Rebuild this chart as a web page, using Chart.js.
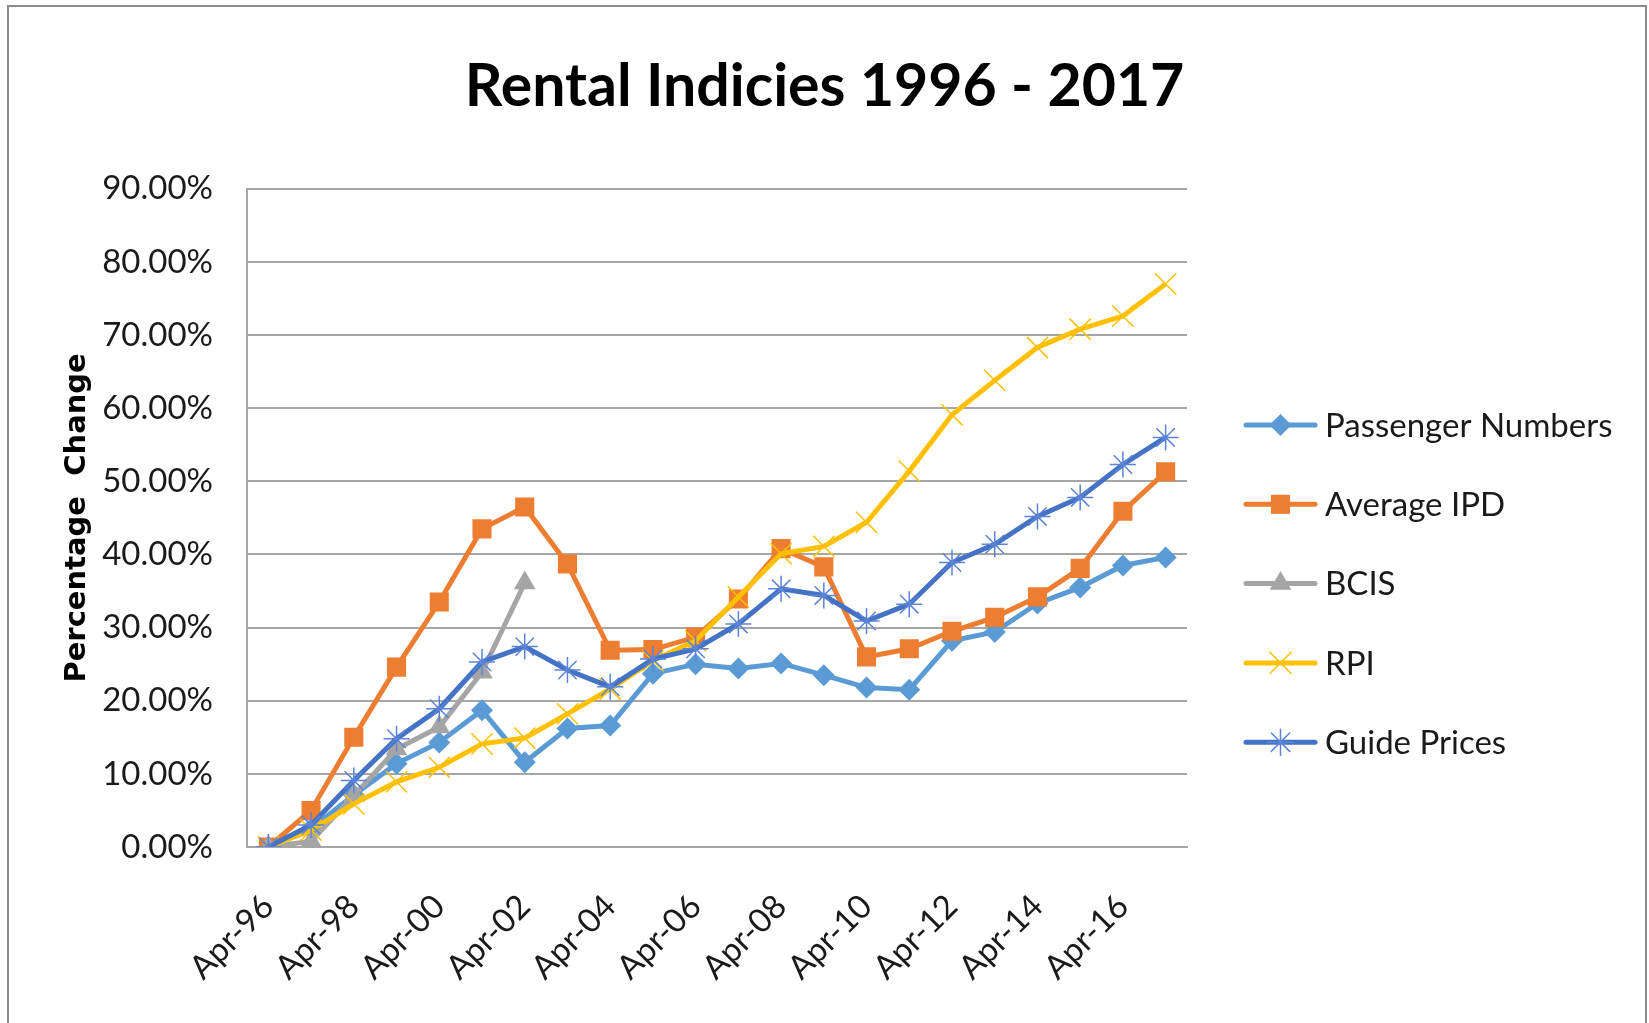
<!DOCTYPE html>
<html>
<head>
<meta charset="utf-8">
<title>Rental Indicies 1996 - 2017</title>
<script src="https://cdn.jsdelivr.net/npm/chart.js"></script>
<style>
  html, body { margin: 0; padding: 0; background: #fff; }
  #chart { display: block; }
</style>
</head>
<body>
<canvas id="chart" width="1649" height="1023"></canvas>
<script>
// categories: one point per April, 1996 - 2017
const years = ["Apr-96", "Apr-97", "Apr-98", "Apr-99", "Apr-00", "Apr-01", "Apr-02", "Apr-03",
    "Apr-04", "Apr-05", "Apr-06", "Apr-07", "Apr-08", "Apr-09", "Apr-10", "Apr-11",
    "Apr-12", "Apr-13", "Apr-14", "Apr-15", "Apr-16", "Apr-17"]

// values in percent
const passengerNumbers = [0, 2.5, 7.1, 11.4, 14.3, 18.7, 11.6, 16.2, 16.6, 23.7, 25.0, 24.4,
    25.1, 23.5, 21.8, 21.5, 28.2, 29.4, 33.3, 35.5, 38.5, 39.6]
const averageIPD = [0, 5.0, 15.0, 24.6, 33.5, 43.5, 46.5, 38.7, 26.9, 27.0, 28.7, 33.9,
    40.8, 38.3, 26.0, 27.1, 29.5, 31.4, 34.2, 38.1, 45.9, 51.3]
const bcis = [0, 0.8, 7.0, 13.4, 16.4, 23.9, 36.1]
const rpi = [0, 2.3, 5.9, 8.9, 10.9, 14.1, 14.9, 18.2, 21.6, 25.5, 28.2, 34.2,
    40.1, 41.1, 44.4, 51.4, 59.1, 63.8, 68.3, 70.8, 72.6, 77.0]
const guidePrices = [0, 3.0, 9.1, 14.8, 18.9, 25.3, 27.4, 24.2, 21.9, 25.7, 27.1, 30.5,
    35.3, 34.4, 30.9, 33.2, 38.9, 41.4, 45.2, 47.8, 52.3, 56.0]

const seriesNames = ["Passenger Numbers", "Average IPD", "BCIS", "RPI", "Guide Prices"]
const yTicks = [0, 10, 20, 30, 40, 50, 60, 70, 80, 90]

const lightBlue = "#5b9bd5", orange = "#ed7d31", grey = "#a5a5a5", gold = "#ffc000", blue = "#4472c4"
const gridGrey = "#a6a6a6"
const textFont = 'Lato, "Open Sans", sans-serif'

function series(label, data, color, pointStyle, radius, filled, index) {
    return {
        label,
        data,
        borderColor: color,
        backgroundColor: color,
        borderWidth: 5,
        pointStyle,
        pointRadius: radius,
        pointHoverRadius: radius,
        pointBackgroundColor: color,
        pointBorderColor: filled ? color : (color === gold ? "#ffc000" : "#5b84d6"),
        pointBorderWidth: filled ? 0 : 1.5,
        tension: 0,
        fill: false,
        // excel paints later series on top
        order: 4 - index
    }
}

const datasets = [
    series(seriesNames[0], passengerNumbers, lightBlue, "rectRot", 11, true, 0),
    series(seriesNames[1], averageIPD, orange, "rect", 13.5, true, 1),
    series(seriesNames[2], bcis, grey, "triangle", 12.5, true, 2),
    series(seriesNames[3], rpi, gold, "crossRot", 15, false, 3),
    series(seriesNames[4], guidePrices, blue, "star", 13, false, 4)
]

// outer chart frame (no bottom edge, it runs off the picture)
const frame = {
    id: "frame",
    beforeDraw(chart) {
        const ctx = chart.ctx
        ctx.save()
        ctx.fillStyle = "#fff"
        ctx.fillRect(0, 0, chart.width, chart.height)
        ctx.strokeStyle = "#8c8c8c"
        ctx.lineWidth = 2
        ctx.beginPath()
        ctx.moveTo(8, chart.height)
        ctx.lineTo(8, 6)
        ctx.lineTo(1646, 6)
        ctx.lineTo(1646, chart.height)
        ctx.stroke()
        ctx.restore()
    }
}

// legend: line with the marker in its middle, like the spreadsheet does it
const sideLegend = {
    id: "sideLegend",
    afterDraw(chart) {
        const ctx = chart.ctx
        ctx.save()
        chart.data.datasets.forEach((ds, i) => {
            const y = 425 + 79.3 * i
            ctx.strokeStyle = ds.borderColor
            ctx.lineWidth = 5
            ctx.lineCap = "round"
            ctx.beginPath()
            ctx.moveTo(1246, y)
            ctx.lineTo(1315, y)
            ctx.stroke()
            ctx.fillStyle = ds.pointBackgroundColor
            ctx.strokeStyle = ds.pointBorderColor
            ctx.lineWidth = ds.pointBorderWidth || 0
            Chart.helpers.drawPoint(ctx, {
                pointStyle: ds.pointStyle,
                radius: ds.pointRadius,
                borderWidth: ds.pointBorderWidth,
                rotation: 0
            }, 1280.5, y)
            ctx.fillStyle = "#1a1a1a"
            ctx.font = "33px " + textFont
            ctx.textBaseline = "middle"
            ctx.textAlign = "left"
            ctx.fillText(ds.label, 1325, y + 1)
        })
        ctx.restore()
    }
}

new Chart(document.getElementById("chart"), {
    type: "line",
    data: { labels: years, datasets },
    plugins: [frame, sideLegend],
    options: {
        responsive: false,
        animation: false,
        layout: { padding: 0 },
        plugins: {
            legend: { display: false },
            tooltip: { enabled: false },
            title: {
                display: true,
                text: "Rental Indicies 1996 - 2017",
                color: "#000",
                font: { family: textFont, size: 59, weight: "bold", lineHeight: 1.2 },
                padding: { top: 52, bottom: 66 }
            }
        },
        scales: {
            x: {
                offset: true,
                grid: { display: false, drawTicks: false },
                border: { display: true, color: gridGrey, width: 2 },
                ticks: {
                    autoSkip: false,
                    minRotation: 45,
                    maxRotation: 45,
                    padding: 40,
                    color: "#1a1a1a",
                    font: { family: textFont, size: 33 },
                    callback: (v, i) => (i % 2 ? "" : years[i])
                },
                afterFit: scale => { scale.height = 176 }
            },
            y: {
                min: 0,
                max: 90,
                afterBuildTicks: scale => { scale.ticks = yTicks.map(value => ({ value })) },
                grid: { color: gridGrey, lineWidth: 2, drawTicks: false },
                border: { display: true, color: gridGrey, width: 2 },
                ticks: {
                    padding: 34,
                    color: "#1a1a1a",
                    font: { family: textFont, size: 33 },
                    callback: v => v.toFixed(2) + "%"
                },
                title: {
                    display: true,
                    text: "Percentage  Change",
                    color: "#000",
                    font: { family: '"DejaVu Sans", sans-serif', size: 29, weight: "bold", lineHeight: 1.2 },
                    padding: { top: 60, bottom: 0 }
                },
                afterFit: scale => { scale.width = 247 }
            },
            // empty band on the right that holds the legend
            side: {
                type: "linear",
                position: "right",
                display: true,
                grid: { display: false, drawOnChartArea: false, drawTicks: false },
                border: { display: false },
                ticks: { display: false },
                afterFit: scale => { scale.width = 462 }
            }
        }
    }
})
</script>
</body>
</html>
